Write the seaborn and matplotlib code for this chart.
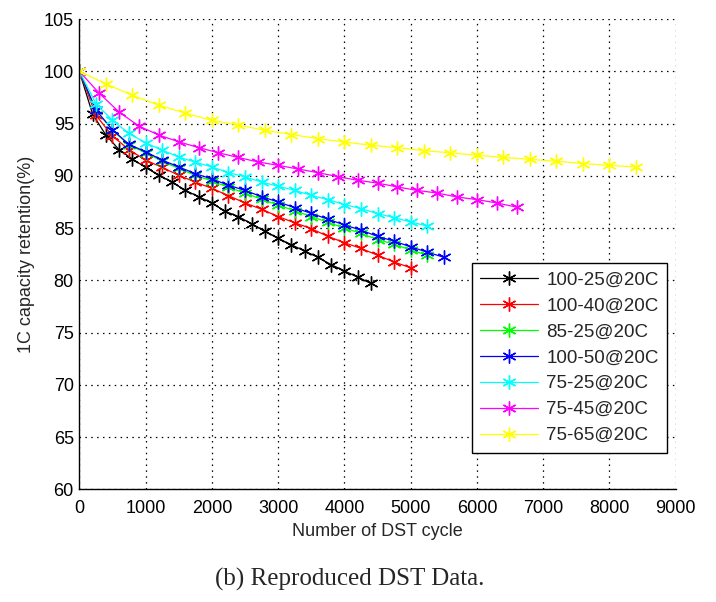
import matplotlib
matplotlib.use("Agg")
import matplotlib.pyplot as plt
import seaborn as sns
import pandas as pd

# cycle counts (x) per series
cyc_100_25 = list(range(0, 4401, 200))
cyc_100_40 = list(range(0, 5001, 250))
cyc_85_25 = list(range(0, 5251, 250))
cyc_100_50 = list(range(0, 5501, 250))
cyc_75_25 = list(range(0, 5251, 250))
cyc_75_45 = list(range(0, 6601, 300))
cyc_75_65 = list(range(0, 8401, 400))

# 1C capacity retention (%)
ret_100_25 = [100, 95.9, 93.9, 92.5, 91.6, 90.8, 90.05, 89.4, 88.6, 88.0, 87.4, 86.6,
              86.1, 85.4, 84.7, 84.0, 83.4, 82.8, 82.2, 81.5, 80.9, 80.3, 79.7]
ret_100_40 = [100, 95.8, 93.8, 92.5, 91.5, 90.8, 90.05, 89.4, 88.8, 88.1, 87.4,
              86.8, 86.1, 85.5, 84.95, 84.2, 83.6, 83.05, 82.4, 81.75, 81.2]
ret_85_25 = [100, 96.3, 94.35, 92.95, 92.2, 91.4, 90.7, 90.05, 89.5, 88.9, 88.35,
             87.75, 87.2, 86.65, 86.1, 85.55, 85.0, 84.5, 83.9, 83.45, 82.9, 82.4]
ret_100_50 = [100, 96.3, 94.4, 93.0, 92.3, 91.5, 90.85, 90.2, 89.7, 89.1, 88.6, 88.0,
              87.5, 86.95, 86.4, 85.85, 85.3, 84.8, 84.2, 83.75, 83.2, 82.7, 82.2]
ret_75_25 = [100, 96.9, 95.3, 94.05, 93.15, 92.45, 91.8, 91.3, 90.85, 90.3, 89.9,
             89.4, 89.0, 88.6, 88.13, 87.72, 87.25, 86.86, 86.38, 86.0, 85.58, 85.2]
ret_75_45 = [100, 97.9, 96.1, 94.75, 93.9, 93.25, 92.7, 92.2, 91.75, 91.32, 91.0, 90.65,
             90.3, 89.92, 89.57, 89.3, 88.93, 88.6, 88.35, 87.97, 87.72, 87.4, 87.0]
ret_75_65 = [100, 98.8, 97.7, 96.75, 96.0, 95.3, 94.85, 94.35, 93.95, 93.56, 93.23,
             92.92, 92.7, 92.4, 92.2, 91.96, 91.76, 91.57, 91.39, 91.17, 91.0, 90.84]

labels = ["100-25@20C", "100-40@20C", "85-25@20C", "100-50@20C",
          "75-25@20C", "75-45@20C", "75-65@20C"]
colors = ["#000000", "#ff0000", "#00ff00", "#0000ff", "#00ffff", "#ff00ff", "#ffff00"]

x_ticks = list(range(0, 9001, 1000))
y_ticks = list(range(60, 106, 5))


def build_frame():
    cycles = [cyc_100_25, cyc_100_40, cyc_85_25, cyc_100_50, cyc_75_25, cyc_75_45, cyc_75_65]
    rets = [ret_100_25, ret_100_40, ret_85_25, ret_100_50, ret_75_25, ret_75_45, ret_75_65]
    parts = []
    for lab, c, r in zip(labels, cycles, rets):
        parts.append(pd.DataFrame({"cycle": c, "retention": r, "case": lab}))
    return pd.concat(parts, ignore_index=True)


def plot_retention(df):
    fig = plt.figure(figsize=(7.16, 6.02), dpi=100)
    ax = fig.add_axes([0.1108, 0.1872, 0.8329, 0.7812])

    # matlab style 6-arm asterisk
    star = (6, 2, 0)
    for lab, col in zip(labels, colors):
        sub = df[df["case"] == lab]
        sns.lineplot(data=sub, x="cycle", y="retention", ax=ax, color=col,
                     marker=star, markersize=10, markeredgewidth=1.0,
                     markeredgecolor=col, linewidth=0.9, label=lab,
                     estimator=None, sort=False)

    ax.set_xlim(0, 9000)
    ax.set_ylim(60, 105)
    ax.set_xticks(x_ticks)
    ax.set_yticks(y_ticks)
    ax.grid(True, linestyle=(0, (1.2, 3.5)), color="black", linewidth=0.9)
    for side in ["top", "right"]:
        ax.spines[side].set_visible(False)
    for side in ["left", "bottom"]:
        ax.spines[side].set_color("black")
        ax.spines[side].set_linewidth(1.0)
    ax.tick_params(axis="both", direction="in", length=4, labelsize=13, colors="black")
    ax.tick_params(axis="x", pad=8)
    ax.tick_params(axis="y", pad=4)

    ax.set_xlabel("Number of DST cycle", fontsize=13, labelpad=4)
    ax.set_ylabel("1C capacity retention(%)", fontsize=13, labelpad=6)

    leg = ax.legend(loc="lower left", bbox_to_anchor=(0.658, 0.078), fontsize=13.5,
                    frameon=True, fancybox=False, framealpha=1, edgecolor="black",
                    handlelength=3.1, handletextpad=0.42, labelspacing=0.47,
                    borderpad=0.45, borderaxespad=0)
    leg.get_frame().set_linewidth(1.0)

    fig.text(0.489, 0.028, "(b) Reproduced DST Data.", ha="center", va="baseline",
             fontsize=18, family=["Liberation Serif", "DejaVu Serif"])

    fig.savefig("out.png", dpi=100)
    print("Saved out.png")


if __name__ == "__main__":
    sns.set_theme(style="white")
    plt.rcParams["font.family"] = ["Liberation Sans", "DejaVu Sans"]
    plot_retention(build_frame())
